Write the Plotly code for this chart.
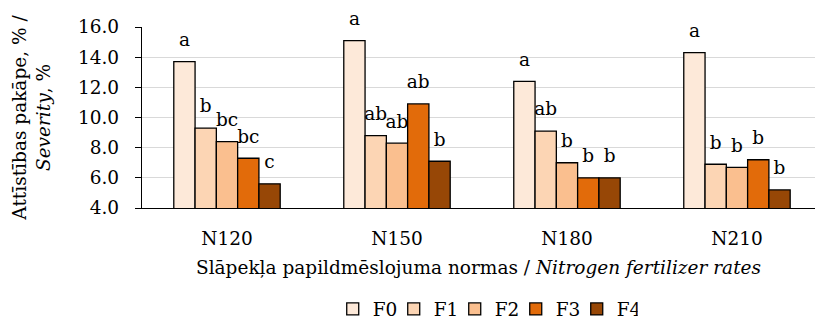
import plotly.graph_objects as go

# Nitrogen rates (categories) and fungicide treatments (series)
rates = ["N120", "N150", "N180", "N210"]
treatments = ["F0", "F1", "F2", "F3", "F4"]

# Disease severity, %
sev_F0 = [13.7, 15.1, 12.4, 14.3]
sev_F1 = [9.3, 8.8, 9.1, 6.9]
sev_F2 = [8.4, 8.3, 7.0, 6.7]
sev_F3 = [7.3, 10.9, 6.0, 7.2]
sev_F4 = [5.6, 7.1, 6.0, 5.2]

# Significance letters
let_F0 = ["a", "a", "a", "a"]
let_F1 = ["b", "ab", "ab", "b"]
let_F2 = ["bc", "ab", "b", "b"]
let_F3 = ["bc", "ab", "b", "b"]
let_F4 = ["c", "b", "b", "b"]

colors = ["#FDE9D9", "#FCD5B4", "#FABF8F", "#E26B0A", "#974706"]
FONT = "DejaVu Serif"
FS = 18.5

series = [sev_F0, sev_F1, sev_F2, sev_F3, sev_F4]
letters = [let_F0, let_F1, let_F2, let_F3, let_F4]

fig = go.Figure()
for name, vals, col in zip(treatments, series, colors):
    fig.add_trace(go.Bar(
        x=rates, y=vals, name=name, offsetgroup=name,
        marker=dict(color=col, line=dict(color="#000000", width=1.3)),
    ))

for name, vals, txt in zip(treatments, series, letters):
    fig.add_trace(go.Scatter(
        x=rates, y=vals, text=txt, mode="markers+text", offsetgroup=name,
        textposition="top center", showlegend=False, hoverinfo="skip",
        marker=dict(size=16, opacity=0),
        textfont=dict(family=FONT, size=FS, color="#000000"),
        cliponaxis=False,
    ))

fig.update_layout(
    width=815, height=323,
    margin=dict(l=142, r=0, t=27, b=115, autoexpand=False),
    paper_bgcolor="white", plot_bgcolor="white",
    barmode="group", bargap=0.374, bargroupgap=0,
    scattermode="group", scattergap=0.374,
    font=dict(family=FONT, size=FS, color="#000000"),
    showlegend=True,
    legend=dict(
        orientation="h", x=0.51, xanchor="center", y=-0.455, yanchor="top",
        font=dict(family=FONT, size=FS), itemwidth=30, entrywidth=16,
        traceorder="normal",
    ),
    xaxis=dict(
        type="category", range=[-0.5, 3.459], automargin=False,
        showline=True, linecolor="#000000", linewidth=1.3,
        showgrid=False, ticks="", ticklabelstandoff=14,
        title=dict(
            text="Slāpekļa papildmēslojuma normas / <i>Nitrogen fertilizer rates</i>",
            standoff=12, font=dict(family=FONT, size=FS),
        ),
    ),
    yaxis=dict(
        range=[4, 16], dtick=2, tickformat=".1f", automargin=False,
        showline=True, linecolor="#000000", linewidth=1.3,
        ticks="outside", ticklen=6, tickcolor="#000000", tickwidth=1.3,
        ticklabelstandoff=12,
        showgrid=True, gridcolor="#D9D9D9", gridwidth=1.3, zeroline=False,
        title=dict(
            text="Attīstības pakāpe, % /<br><i>Severity</i>, %",
            standoff=22, font=dict(family=FONT, size=FS),
        ),
    ),
)

fig.write_html("out.html")
